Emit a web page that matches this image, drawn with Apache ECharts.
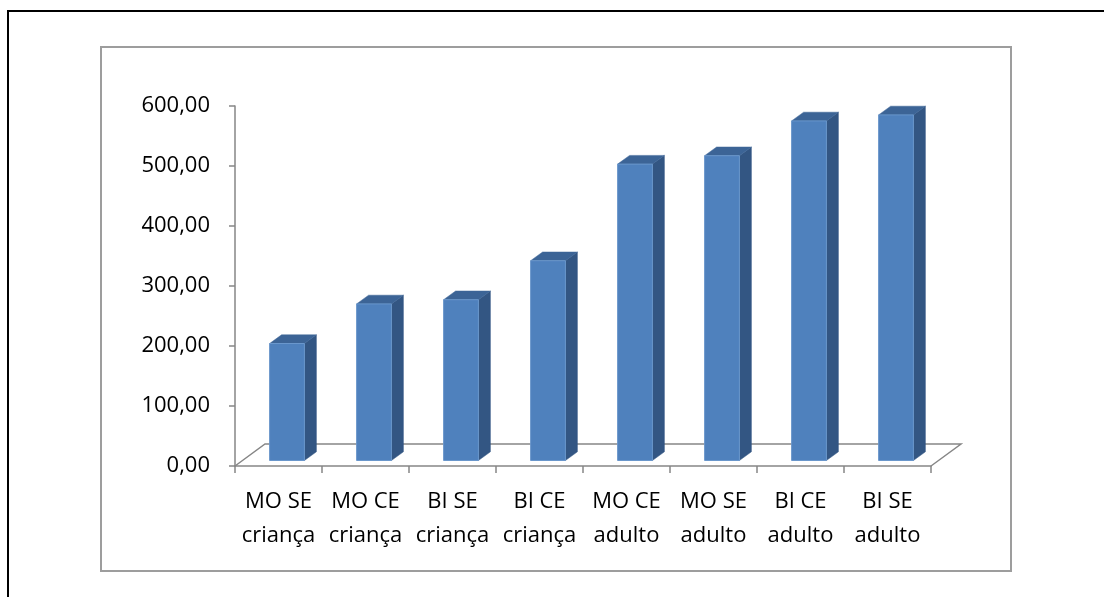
<!DOCTYPE html>
<html>
<head>
<meta charset="utf-8">
<script src="https://cdn.jsdelivr.net/npm/echarts@6/dist/echarts.min.js"></script>
<style>
  html, body { margin: 0; padding: 0; background: #fff; overflow: hidden; }
  #frame {
    position: absolute; left: 7px; top: 10px; width: 1200px; height: 700px;
    border-left: 2.5px solid #000; border-top: 2.5px solid #000;
  }
  #chart { position: absolute; left: 0; top: 0; width: 1104px; height: 597px; }
</style>
</head>
<body>
<div id="frame"></div>
<div id="chart"></div>
<script>
// Categories and values of the column chart
const categories = [
  'MO SE\ncriança', 'MO CE\ncriança', 'BI SE\ncriança', 'BI CE\ncriança',
  'MO CE\nadulto', 'MO SE\nadulto', 'BI CE\nadulto', 'BI SE\nadulto'
];
const values = [195, 261, 268, 333, 494, 508, 566, 576];
const yMin = 0;
const yMax = 600;
const yStep = 100;

const FONT = '"Open Sans", "Noto Sans", sans-serif';
const AXIS_GREY = '#868686';

// Oblique depth of the floor and of each column
const FLOOR_DX = 30, FLOOR_DY = -22;
const BAR_OFF_DX = 8.5, BAR_OFF_DY = -5.5;
const BAR_DX = 12, BAR_DY = -8.7;

const chart = echarts.init(document.getElementById('chart'), null, { renderer: 'canvas' });

function fmt(v) {
  return v.toFixed(2).replace('.', ',');
}

function renderFloor(params, api) {
  const cs = params.coordSys;
  const x0 = cs.x, x1 = cs.x + cs.width, y = cs.y + cs.height;
  return {
    type: 'polyline',
    shape: { points: [[x0, y], [x0 + FLOOR_DX, y + FLOOR_DY], [x1 + FLOOR_DX, y + FLOOR_DY], [x1, y]] },
    style: { stroke: AXIS_GREY, lineWidth: 1.5, fill: null }
  };
}

function renderBar(params, api) {
  const idx = api.value(0);
  const base = api.coord([idx, 0]);
  const top = api.coord([idx, api.value(1)]);
  const band = api.size([1, 0])[0];
  const fw = band * 0.4;
  const cx = base[0] + BAR_OFF_DX;
  const by = base[1] + BAR_OFF_DY;
  const ty = top[1] + BAR_OFF_DY;
  const l = cx - fw / 2, r = cx + fw / 2;
  return {
    type: 'group',
    children: [
      { type: 'polygon', shape: { points: [[r, ty], [r + BAR_DX, ty + BAR_DY], [r + BAR_DX, by + BAR_DY], [r, by]] },
        style: { fill: '#335683', stroke: '#335683', lineWidth: 0.5 } },
      { type: 'polygon', shape: { points: [[l, ty], [l + BAR_DX, ty + BAR_DY], [r + BAR_DX, ty + BAR_DY], [r, ty]] },
        style: { fill: '#3c6496', stroke: '#3c6496', lineWidth: 0.5 } },
      { type: 'rect', shape: { x: l, y: ty, width: fw, height: by - ty },
        style: { fill: '#4f81bd', stroke: '#6a97cc', lineWidth: 1 } }
    ]
  };
}

chart.setOption({
  animation: false,
  graphic: [
    { type: 'rect', z: 0, shape: { x: 101, y: 47, width: 910, height: 524 },
      style: { fill: null, stroke: '#9d9d9d', lineWidth: 2 } }
  ],
  grid: { left: 235, top: 106, width: 696, height: 360, containLabel: false },
  xAxis: {
    type: 'category',
    data: categories,
    boundaryGap: true,
    axisLine: { show: true, lineStyle: { color: AXIS_GREY, width: 1.5 } },
    axisTick: { show: true, length: 7, lineStyle: { color: AXIS_GREY, width: 1.5 } },
    axisLabel: {
      interval: 0, margin: 19, color: '#000', fontFamily: FONT, fontSize: 22, lineHeight: 34
    },
    splitLine: { show: false }
  },
  yAxis: {
    type: 'value',
    min: yMin, max: yMax, interval: yStep,
    axisLine: { show: true, lineStyle: { color: AXIS_GREY, width: 1.5 } },
    axisTick: { show: true, length: 6, lineStyle: { color: AXIS_GREY, width: 1.5 } },
    axisLabel: { margin: 25, color: '#000', fontFamily: FONT, fontSize: 22, formatter: fmt },
    splitLine: { show: false }
  },
  series: [
    {
      type: 'custom', z: 1, silent: true,
      renderItem: renderFloor,
      data: [[0, 0]],
      encode: { x: 0, y: 1 }
    },
    {
      type: 'custom', z: 3,
      renderItem: renderBar,
      data: values.map((v, i) => [i, v]),
      encode: { x: 0, y: 1 }
    }
  ]
});
</script>
</body>
</html>
